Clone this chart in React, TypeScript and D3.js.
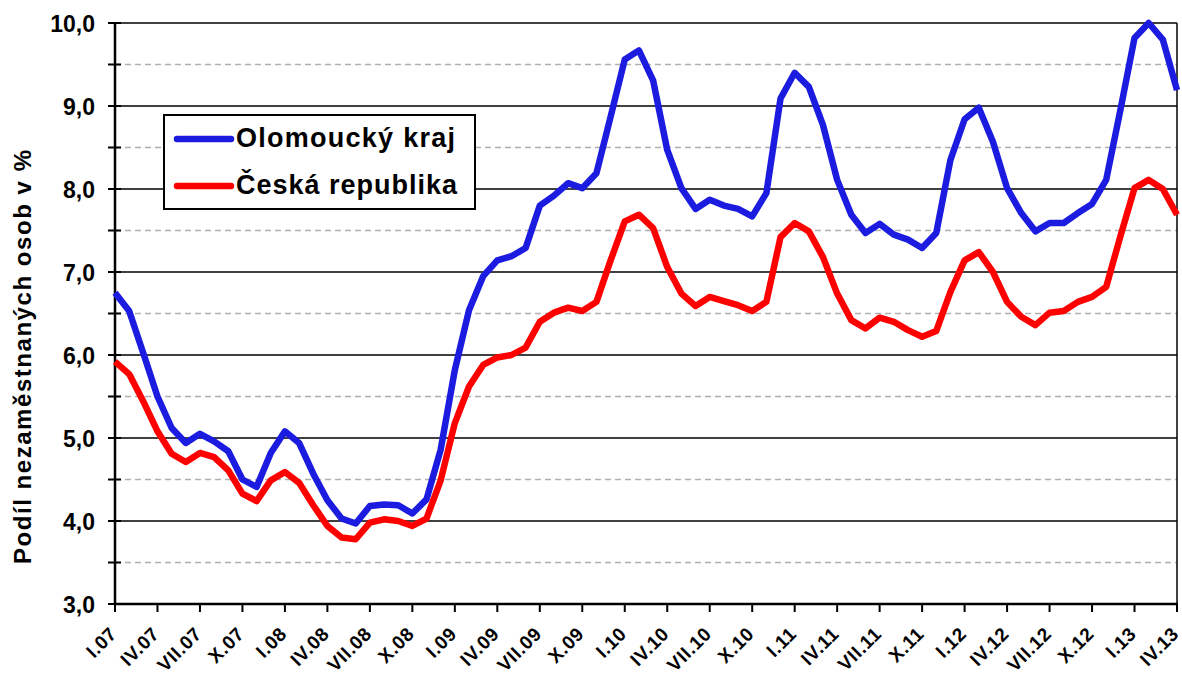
import React, { useEffect, useRef } from 'react';
import * as d3 from 'd3';

const romans = ['I', 'IV', 'VII', 'X'];
const years = ['07', '08', '09', '10', '11', '12', '13'];

// monthly values I.07 - IV.13
const olomoucky = [
  6.75, 6.53, 6.02, 5.50, 5.12, 4.94, 5.05, 4.96, 4.84, 4.50, 4.41, 4.82,
  5.08, 4.94, 4.57, 4.25, 4.03, 3.97, 4.18, 4.20, 4.19, 4.09, 4.26, 4.86,
  5.82, 6.54, 6.95, 7.14, 7.19, 7.29, 7.80, 7.92, 8.07, 8.01, 8.19, 8.87,
  9.56, 9.67, 9.31, 8.47, 8.01, 7.76, 7.87, 7.80, 7.76, 7.67, 7.95, 9.09,
  9.40, 9.23, 8.77, 8.11, 7.69, 7.47, 7.58, 7.45, 7.39, 7.29, 7.47, 8.35,
  8.84, 8.98, 8.57, 8.01, 7.71, 7.49, 7.59, 7.59, 7.71, 7.82, 8.11, 8.95,
  9.82, 10.0, 9.80, 9.19,
];
const ceskaRepublika = [
  5.92, 5.77, 5.44, 5.08, 4.81, 4.71, 4.82, 4.77, 4.61, 4.33, 4.24, 4.49,
  4.59, 4.46, 4.19, 3.94, 3.80, 3.78, 3.98, 4.02, 4.00, 3.94, 4.03, 4.49,
  5.18, 5.62, 5.88, 5.97, 6.00, 6.09, 6.40, 6.51, 6.57, 6.53, 6.64, 7.14,
  7.61, 7.69, 7.53, 7.06, 6.74, 6.59, 6.70, 6.65, 6.60, 6.53, 6.64, 7.42,
  7.59, 7.49, 7.18, 6.74, 6.42, 6.32, 6.45, 6.40, 6.30, 6.22, 6.29, 6.76,
  7.14, 7.24, 7.00, 6.64, 6.46, 6.36, 6.51, 6.53, 6.64, 6.70, 6.82, 7.43,
  8.01, 8.11, 8.00, 7.69,
];
const seriesNames = ['Olomoucký kraj', 'Česká republika'];
const seriesColors = ['#1c1ce0', '#ff0000'];
const yTicks = [3, 4, 5, 6, 7, 8, 9, 10];

const App: React.FC = () => {
  const svgRef = useRef<SVGSVGElement>(null);

  useEffect(() => {
    if (!svgRef.current) return;
    const svg = d3.select(svgRef.current);
    svg.selectAll('*').remove();

    const font = '"Liberation Sans", Arial, sans-serif';
    const left = 115, right = 1177, top = 23, bottom = 604;
    const n = olomoucky.length;

    const x = d3.scaleLinear().domain([0, n - 1]).range([left, right]);
    const y = d3.scaleLinear().domain([3, 10]).range([bottom, top]);

    // half grid (dashed)
    const halves = d3.range(3.5, 10, 1);
    svg.append('g').selectAll('line').data(halves).enter().append('line')
      .attr('x1', left).attr('x2', right)
      .attr('y1', d => y(d)).attr('y2', d => y(d))
      .attr('stroke', '#b0b0b0').attr('stroke-width', 1.5)
      .attr('stroke-dasharray', '6,4');

    // integer grid
    svg.append('g').selectAll('line').data(yTicks.slice(1)).enter().append('line')
      .attr('x1', left).attr('x2', right)
      .attr('y1', d => y(d)).attr('y2', d => y(d))
      .attr('stroke', '#000').attr('stroke-width', 1.5);

    // right border
    svg.append('line')
      .attr('x1', right).attr('x2', right).attr('y1', top).attr('y2', bottom)
      .attr('stroke', '#000').attr('stroke-width', 1.5);

    // y axis
    svg.append('line')
      .attr('x1', left).attr('x2', left).attr('y1', top).attr('y2', bottom + 1)
      .attr('stroke', '#000').attr('stroke-width', 2.5);
    svg.append('g').selectAll('line').data(d3.range(3, 10.01, 0.5)).enter().append('line')
      .attr('x1', left - 7).attr('x2', left + 6)
      .attr('y1', d => y(d)).attr('y2', d => y(d))
      .attr('stroke', '#000').attr('stroke-width', 2);
    svg.append('g').selectAll('text').data(yTicks).enter().append('text')
      .attr('x', 95).attr('y', d => y(d) + 8.5)
      .attr('text-anchor', 'end')
      .attr('font-family', font).attr('font-weight', 'bold').attr('font-size', 23)
      .text(d => d.toFixed(1).replace('.', ','));

    svg.append('text')
      .attr('transform', `translate(31,${357}) rotate(-90)`)
      .attr('text-anchor', 'middle')
      .attr('font-family', font).attr('font-weight', 'bold').attr('font-size', 24)
      .attr('textLength', 414).attr('lengthAdjust', 'spacing')
      .text('Podíl nezaměstnaných osob v %');

    // x axis
    svg.append('line')
      .attr('x1', left - 1).attr('x2', right + 1).attr('y1', bottom).attr('y2', bottom)
      .attr('stroke', '#000').attr('stroke-width', 2.5);
    const labelIdx = d3.range(0, n, 3);
    const labels = labelIdx.map(i => `${romans[(i / 3) % 4]}.${years[Math.floor(i / 12)]}`);
    svg.append('g').selectAll('line').data(labelIdx).enter().append('line')
      .attr('x1', d => x(d)).attr('x2', d => x(d))
      .attr('y1', bottom).attr('y2', bottom + 8)
      .attr('stroke', '#000').attr('stroke-width', 2);
    const lbl = svg.append('g').selectAll('g').data(labelIdx).enter().append('g')
      .attr('transform', d => `translate(${x(d) + 3},${bottom + 31})`);
    lbl.append('text')
      .attr('x', 0).attr('y', 0)
      .attr('transform', 'rotate(-45)')
      .attr('text-anchor', 'end')
      .attr('font-family', font).attr('font-weight', 'bold').attr('font-size', 19)
      .attr('letter-spacing', 0.6)
      .text((d, i) => labels[i]);

    // lines
    const line = d3.line<number>().x((d, i) => x(i)).y(d => y(d));
    [olomoucky, ceskaRepublika].forEach((s, k) => {
      svg.append('path').datum(s)
        .attr('fill', 'none').attr('stroke', seriesColors[k])
        .attr('stroke-width', 6.5).attr('stroke-linejoin', 'round')
        .attr('d', line);
    });

    // legend
    const lg = svg.append('g');
    lg.append('rect').attr('x', 164).attr('y', 115).attr('width', 311).attr('height', 94)
      .attr('fill', '#fff').attr('stroke', '#000').attr('stroke-width', 2);
    seriesNames.forEach((name, k) => {
      const ly = 139 + k * 47;
      lg.append('line').attr('x1', 177).attr('x2', 231).attr('y1', ly).attr('y2', ly)
        .attr('stroke', seriesColors[k]).attr('stroke-width', 6.5).attr('stroke-linecap', 'round');
      lg.append('text').attr('x', 236).attr('y', ly + 8)
        .attr('font-family', font).attr('font-weight', 'bold').attr('font-size', 27)
        .attr('textLength', k === 0 ? 219 : 221).attr('lengthAdjust', 'spacing')
        .text(name);
    });
  }, []);

  return (
    <div style={{ position: 'absolute', left: 0, top: 0 }}>
      <svg ref={svgRef} width={1182} height={675} style={{ display: 'block', background: '#fff' }} />
    </div>
  );
};

export default App;
